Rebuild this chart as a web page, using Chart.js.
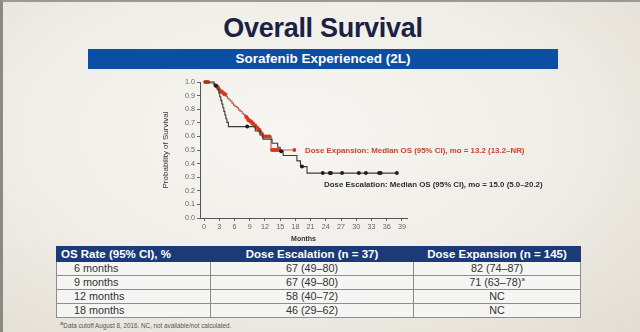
<!DOCTYPE html>
<html>
<head>
<meta charset="utf-8">
<script src="https://cdn.jsdelivr.net/npm/chart.js@4/dist/chart.umd.min.js"></script>
<style>
  html, body { margin: 0; padding: 0; }
  body {
    width: 640px; height: 332px; position: relative; overflow: hidden;
    font-family: "Liberation Sans", Arial, sans-serif;
    background: radial-gradient(ellipse at 45% 40%, #f7f6f2 0%, #efede7 55%, #e2ddd2 100%);
    border-left: 3px solid #8a8984; border-top: 2px solid #9a9994;
    box-sizing: border-box;
  }
  #title {
    position: absolute; left: 0; width: 640px; top: 11px; text-align: center;
    font-size: 27px; font-weight: bold; color: #1b2142; letter-spacing: -0.3px;
  }
  #banner {
    position: absolute; left: 85px; top: 47px; width: 470px; height: 20px;
    background: #0c4ea3; color: #fff; font-weight: bold; font-size: 13.5px;
    text-align: center; line-height: 20px;
  }
  #km { position: absolute; left: 150px; top: 72px; }
  .note { position: absolute; font-size: 7.9px; font-weight: bold; white-space: nowrap; }
  #noteExp { left: 302px; top: 144px; color: #c9432d; }
  #noteEsc { left: 321px; top: 178px; color: #2e2e2e; }
  table {
    position: absolute; left: 53px; top: 244px; width: 525px;
    border-collapse: collapse; font-size: 10.8px; color: #333;
  }
  th {
    background: #1c3a78; color: #fff; font-weight: bold; height: 14px; line-height: 14px;
    padding: 0; border: 1px solid #1c3a78; font-size: 11.5px;
  }
  th.first { text-align: left; padding-left: 4px; }
  td {
    height: 13px; line-height: 13px; padding: 0; border: 1px solid #8d8d8d; text-align: center;
    background: #f5f5f3;
  }
  td.first { text-align: left; padding-left: 17px; }
  sup { font-size: 6px; line-height: 0; }
  #foot { position: absolute; left: 57px; top: 320px; font-size: 6.3px; color: #555; }
</style>
</head>
<body>
<div id="title">Overall Survival</div>
<div id="banner">Sorafenib Experienced (2L)</div>
<canvas id="km" width="270" height="172"></canvas>
<div class="note" id="noteExp">Dose Expansion: Median OS (95% CI), mo = 13.2 (13.2–NR)</div>
<div class="note" id="noteEsc">Dose Escalation: Median OS (95% CI), mo = 15.0 (5.0–20.2)</div>

<table>
  <tr>
    <th class="first" style="width:149px">OS Rate (95% CI), %</th>
    <th style="width:202px">Dose Escalation (n = 37)</th>
    <th>Dose Expansion (n = 145)</th>
  </tr>
  <tr><td class="first">6 months</td><td>67 (49–80)</td><td>82 (74–87)</td></tr>
  <tr><td class="first">9 months</td><td>67 (49–80)</td><td>71 (63–78)<sup>a</sup></td></tr>
  <tr><td class="first">12 months</td><td>58 (40–72)</td><td>NC</td></tr>
  <tr><td class="first">18 months</td><td>46 (29–62)</td><td>NC</td></tr>
</table>
<div id="foot"><sup>a</sup>Data cutoff August 8, 2016. NC, not available/not calculated.</div>

<script>
// Kaplan–Meier step points: event times (months) and survival after each event
const escalationTimes = [0, 2.0, 2.6, 2.9, 3.1, 3.3, 3.5, 3.7, 3.9, 4.1, 4.3, 4.5, 4.8,
  10.1, 11.0, 11.6, 13.4, 14.5, 15.0, 15.6, 18.3, 19.0, 20.3, 38.0];
const escalationSurv = [1.0, 0.973, 0.946, 0.919, 0.892, 0.865, 0.838, 0.811, 0.784, 0.757, 0.730, 0.703, 0.672,
  0.640, 0.610, 0.580, 0.550, 0.520, 0.490, 0.460, 0.420, 0.378, 0.330, 0.330];
const escalationCensored = [2.3, 8.5, 15.2, 19.3, 23.4, 24.8, 25.0, 27.2, 30.5, 31.9, 34.5, 34.8, 38.0];

const expansionTimes = [0, 1.0, 1.8, 2.3, 2.6, 2.9, 3.2, 3.6, 4.0, 4.3, 4.6, 4.9, 5.2, 5.5, 5.8, 6.1,
  6.5, 6.8, 7.1, 7.5, 7.8, 8.1, 8.4, 8.7, 9.0, 9.4, 9.8, 10.2, 10.6, 11.0, 11.3, 11.6, 13.2, 17.8];
const expansionSurv = [1.0, 0.993, 0.986, 0.972, 0.958, 0.944, 0.930, 0.920, 0.910, 0.895, 0.880, 0.870, 0.860, 0.845, 0.830, 0.820,
  0.810, 0.795, 0.785, 0.770, 0.760, 0.745, 0.735, 0.720, 0.710, 0.695, 0.680, 0.665, 0.650, 0.635, 0.620, 0.600, 0.500, 0.500];
const expansionCensored = [0.2, 0.5, 0.8, 2.5, 2.8, 3.0, 3.3, 3.5, 3.8, 4.0, 4.2,
  8.3, 8.5, 8.7, 8.9, 9.1, 9.3, 9.5, 9.7, 9.9, 10.1, 10.3, 10.5, 10.7, 10.9, 11.1, 11.4, 11.7,
  12.0, 12.3, 12.6, 12.9, 13.4, 13.7, 14.0, 14.3, 14.7, 17.8];

const monthTicks = [0, 3, 6, 9, 12, 15, 18, 21, 24, 27, 30, 33, 36, 39];
const survivalTicks = [0, 0.1, 0.2, 0.3, 0.4, 0.5, 0.6, 0.7, 0.8, 0.9, 1.0];

// survival value of a step curve at time t
function survAt(times, surv, t) {
  let s = surv[0];
  for (let i = 0; i < times.length; i++) { if (times[i] <= t) s = surv[i]; }
  return s;
}
const toPoints = (times, surv) => times.map((t, i) => ({ x: t, y: surv[i] }));
const censorPoints = (cens, times, surv) => cens.map(t => ({ x: t, y: survAt(times, surv, t) }));

const darkLine = '#3b3b3b', darkMark = '#1f1f1f';
const redLine = '#bb5a40', redMark = '#d6391f';
const tickFont = { family: '"Liberation Sans", Arial, sans-serif', size: 7.2 };

// 'before' keeps the previous level until the next event time, then drops
new Chart(document.getElementById('km'), {
  type: 'line',
  data: {
    datasets: [
      { type: 'scatter', data: censorPoints(escalationCensored, escalationTimes, escalationSurv),
        pointRadius: 2, pointBackgroundColor: darkMark, pointBorderWidth: 0, showLine: false, clip: false },
      { data: toPoints(escalationTimes, escalationSurv), stepped: 'before', borderColor: darkLine,
        borderWidth: 1.1, pointRadius: 0, fill: false, clip: false },
      { type: 'scatter', data: censorPoints(expansionCensored, expansionTimes, expansionSurv),
        pointRadius: 1.9, pointBackgroundColor: redMark, pointBorderWidth: 0, showLine: false, clip: false },
      { data: toPoints(expansionTimes, expansionSurv), stepped: 'before', borderColor: redLine,
        borderWidth: 1.1, pointRadius: 0, fill: false, clip: false }
    ]
  },
  options: {
    responsive: false, animation: false, devicePixelRatio: 1,
    layout: { padding: { top: 8, right: 16, left: 0, bottom: 0 } },
    plugins: { legend: { display: false }, tooltip: { enabled: false } },
    scales: {
      x: {
        type: 'linear', min: -0.8, max: 40,
        afterBuildTicks: s => { s.ticks = monthTicks.map(v => ({ value: v })); },
        afterFit: s => { s.height = 28; },
        grid: { display: true, drawOnChartArea: false, drawTicks: true, tickLength: 3, color: '#666' },
        border: { display: true, color: '#555', width: 1 },
        ticks: { font: tickFont, color: '#666', padding: 2, maxRotation: 0, autoSkip: false },
        title: { display: true, text: 'Months', color: '#333',
                 font: { family: tickFont.family, size: 7, weight: 'bold' }, padding: { top: 0, bottom: 3 } }
      },
      y: {
        type: 'linear', min: 0, max: 1,
        afterBuildTicks: s => { s.ticks = survivalTicks.map(v => ({ value: v })); },
        afterFit: s => { s.width = 47; },
        grid: { display: true, drawOnChartArea: false, drawTicks: true, tickLength: 3, color: '#666' },
        border: { display: true, color: '#555', width: 1 },
        ticks: { font: tickFont, color: '#666', padding: 2, callback: v => v.toFixed(1) },
        title: { display: true, text: 'Probability of Survival', color: '#333',
                 font: { family: tickFont.family, size: 8 }, padding: { top: 8, bottom: 0 } }
      }
    }
  }
});
</script>
</body>
</html>
